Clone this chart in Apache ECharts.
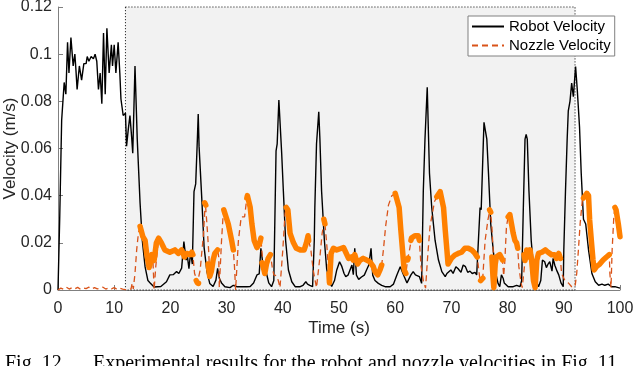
<!DOCTYPE html>
<html>
<head>
<meta charset="utf-8">
<title>Robot and nozzle velocity</title>
<script src="https://cdn.jsdelivr.net/npm/echarts@6/dist/echarts.min.js"></script>
<style>
  html, body { margin: 0; padding: 0; background: #fff; }
  #main { width: 640px; height: 366px; }
</style>
</head>
<body>
<div id="main"></div>
<script type="text/javascript">
// time (s), velocity (m/s)
var robotVel = [
  [0,0],[0.3,0.03],[0.65,0.072],[1.1,0.088],[1.4,0.083],[1.7,0.105],[1.95,0.092],[2.3,0.107],[2.7,0.095],[3.0,0.1],
  [3.2,0.093],[3.4,0.085],[3.8,0.095],[4.2,0.089],[4.6,0.096],[5.0,0.096],[5.2,0.099],[5.5,0.097],[5.9,0.099],[6.3,0.098],
  [6.6,0.1],[6.9,0.097],[7.2,0.085],[7.5,0.092],[7.8,0.079],[8.1,0.109],[8.4,0.083],[8.7,0.111],[9.1,0.092],[9.5,0.104],
  [9.7,0.095],[10.0,0.104],[10.3,0.092],[10.7,0.105],[11.0,0.092],[11.2,0.081],[11.6,0.074],[12.0,0.075],[12.2,0.061],[12.5,0.068],
  [12.8,0.074],[13.1,0.065],[13.3,0.058],[13.7,0.095],[14.1,0.064],[14.6,0.037],[15.0,0.021],[15.5,0.0098],[16.0,0.004],[16.4,0.003],
  [17.1,0.0013],[18.3,0.0015],[19.3,0.0035],[19.9,0.0064],[20.2,0.007],[20.5,0.0065],[21.1,0.0078],[21.5,0.007],[22.0,0.0093],[22.4,0.0205],
  [22.8,0.0127],[23.0,0.0148],[23.3,0.009],[23.6,0.016],[23.9,0.011],[24.2,0.0417],[24.5,0.045],[24.8,0.064],[24.95,0.0746],[25.1,0.061],
  [25.6,0.038],[26.0,0.018],[26.5,0.0078],[27.0,0.0028],[27.6,0.0015],[28.1,0.0042],[28.4,0.0092],[28.7,0.005],[29.1,0.003],[29.7,0.0014],
  [30.6,0.001],[31.2,0.002],[31.8,0.0014],[32.7,0.0014],[33.6,0.0014],[34.2,0.0015],[34.8,0.003],[35.4,0.0064],[35.8,0.0068],[36.1,0.0177],
  [36.4,0.012],[36.8,0.01],[37.1,0.007],[37.5,0.003],[38.0,0.0014],[38.4,0.004],[38.8,0.059],[39.0,0.062],[39.3,0.0806],[39.8,0.058],
  [40.1,0.042],[40.5,0.021],[41.0,0.0085],[41.6,0.0035],[42.2,0.0014],[43.1,0.0014],[43.6,0.002],[44.1,0.0035],[44.4,0.0025],[44.8,0.002],
  [45.3,0.0014],[45.6,0.021],[45.7,0.035],[46.0,0.062],[46.4,0.0756],[46.6,0.064],[46.9,0.042],[47.4,0.021],[47.8,0.009],[48.3,0.0035],
  [48.7,0.0015],[49.2,0.004],[49.6,0.0085],[50.1,0.012],[50.5,0.01],[50.9,0.007],[51.2,0.0057],[51.6,0.0063],[51.9,0.007],[52.3,0.0106],
  [52.55,0.0065],[52.8,0.0177],[53.1,0.0063],[53.5,0.0045],[54.0,0.0055],[54.5,0.0063],[54.9,0.0085],[55.3,0.0106],[55.7,0.0177],[56.0,0.0063],
  [56.4,0.004],[57.0,0.0028],[57.6,0.002],[58.2,0.0014],[59.1,0.0014],[59.7,0.0025],[60.3,0.0064],[60.9,0.0099],[61.2,0.0095],[61.6,0.0057],
  [62.1,0.003],[62.4,0.0035],[62.8,0.0064],[63.2,0.0078],[63.6,0.0064],[63.9,0.007],[64.3,0.0057],[64.7,0.0028],[65.0,0.042],[65.3,0.064],
  [65.7,0.086],[66.1,0.0495],[66.5,0.035],[67.1,0.021],[67.7,0.0127],[68.3,0.0078],[68.9,0.0057],[69.2,0.007],[69.5,0.0064],[69.9,0.0085],
  [70.3,0.007],[70.8,0.0099],[71.2,0.009],[71.7,0.0075],[72.1,0.0106],[72.5,0.0099],[72.9,0.0075],[73.3,0.008],[73.7,0.007],[74.2,0.0075],
  [74.5,0.0064],[74.8,0.0057],[75.1,0.035],[75.3,0.034],[75.7,0.064],[75.8,0.0711],[76.3,0.064],[76.6,0.0495],[77.0,0.028],[77.5,0.0155],
  [77.9,0.007],[78.3,0.0028],[78.6,0.0014],[78.9,0.0064],[79.2,0.005],[79.4,0.003],[80.1,0.0014],[81.0,0.0014],[81.6,0.002],[81.9,0.0018],
  [82.2,0.0014],[82.5,0.004],[82.8,0.035],[83.1,0.064],[83.3,0.066],[83.5,0.064],[83.8,0.042],[84.2,0.021],[84.6,0.0099],[85.0,0.0042],
  [85.5,0.0014],[85.9,0.004],[86.2,0.0127],[86.6,0.012],[86.9,0.0095],[87.2,0.011],[87.5,0.012],[87.9,0.008],[88.1,0.0134],[88.4,0.0105],
  [88.8,0.008],[89.1,0.0064],[89.5,0.003],[89.9,0.0014],[90.0,0.017],[90.3,0.042],[90.6,0.064],[90.8,0.076],[91.1,0.08],[91.4,0.0877],
  [91.7,0.082],[92.1,0.0947],[92.4,0.0848],[92.8,0.069],[93.1,0.0495],[93.5,0.03],[93.9,0.028],[94.4,0.017],[95.0,0.007],[95.6,0.0035],
  [96.2,0.002],[96.8,0.0025],[97.3,0.002],[97.9,0.0025],[98.5,0.0014],[99.1,0.0014],[100,0.0008]
];

var nozzleVel = [
  [0,0],[0.5,0.0008],[1,0.0003],[1.5,0.0012],[2,0.0004],[2.5,0.001],[3,0.0005],[3.5,0.0011],[4,0.0003],[4.5,0.0009],
  [5,0.0006],[5.5,0.0012],[6,0.0004],[6.5,0.001],[7,0.0005],[7.5,0.0008],[8,0.0012],[8.5,0.0004],[9,0.0009],[9.5,0.0005],
  [10,0.001],[10.5,0.0003],[11,0.0008],[11.5,0.0004],[12,0.0002],[12.5,0],[13.0,0.0005],[13.2,0.003],[13.4,0.0005],[13.7,0.007],
  [14.0,0.017],[14.3,0.024],[14.6,0.027],[15.1,0.0226],[15.5,0.021],[15.8,0.015],[16.2,0.0095],[16.4,0.011],[16.7,0.015],[16.9,0.012],
  [17.1,0],[17.4,0.01],[17.7,0.017],[17.9,0.022],[18.4,0.02],[19.0,0.017],[19.9,0.016],[20.8,0.017],[21.4,0.0155],[22.0,0.017],
  [22.5,0.014],[22.9,0.0155],[23.5,0.015],[23.8,0.016],[24.0,0.015],[24.3,0.007],[24.5,0.0057],[24.8,0.003],[25.0,0.003],[25.3,0.0085],
  [25.9,0.024],[26.2,0.0375],[26.5,0.028],[26.8,0.017],[27.0,0.0057],[27.3,0.008],[27.6,0.0127],[27.9,0.0155],[28.4,0.017],[28.6,0.014],
  [28.7,0.001],[29.1,0.021],[29.4,0.0325],[29.7,0.034],[30.3,0.028],[30.9,0.021],[31.2,0.017],[31.4,0.01],[31.6,0],[32.1,0.021],
  [32.6,0.031],[33.2,0.031],[33.6,0.039],[33.7,0.04],[34.2,0.035],[34.5,0.028],[34.9,0.021],[35.4,0.018],[35.9,0.02],[36.1,0.022],
  [36.5,0.0099],[36.8,0.007],[37.1,0.011],[37.4,0.0134],[37.8,0.015],[38.1,0.01],[38.4,0.0064],[38.9,0.006],[39.2,0.004],[39.5,0.001],
  [40.0,0.017],[40.4,0.0325],[40.6,0.035],[40.9,0.034],[41.3,0.024],[41.9,0.02],[42.4,0.0177],[43.1,0.017],[43.8,0.017],[44.2,0.02],
  [44.5,0.023],[44.6,0.021],[45.0,0.017],[45.4,0.0085],[46.0,0.001],[46.6,0.014],[47.0,0.024],[47.4,0.0297],[47.5,0.028],[47.8,0.02],
  [48.1,0.01],[48.3,0.003],[48.6,0.0155],[49.0,0.0177],[49.6,0.017],[50.2,0.0175],[50.8,0.018],[51.2,0.016],[51.7,0.0134],[52.2,0.014],
  [52.5,0.0127],[52.8,0.015],[53.3,0.011],[53.7,0.0125],[54.3,0.0134],[54.9,0.0127],[55.5,0.012],[56.1,0.0099],[56.4,0.0078],[56.9,0.0064],
  [57.3,0.0085],[57.6,0.0106],[57.9,0.017],[58.3,0.027],[58.8,0.036],[59.4,0.04],[60.0,0.041],[60.2,0.0415],[60.7,0.035],[61.0,0.0255],
  [61.3,0.017],[61.6,0.0085],[61.9,0.007],[62.2,0.0127],[62.6,0.0177],[62.9,0.022],[63.5,0.023],[64.1,0.023],[64.3,0.021],[64.6,0.0099],
  [65.0,0.004],[65.4,0.0008],[65.8,0.015],[66.2,0.027],[66.5,0.031],[67.0,0.0375],[67.4,0.0395],[68.0,0.0417],[68.3,0.041],[68.6,0.035],
  [68.9,0.0255],[69.2,0.017],[69.4,0.011],[69.7,0.0105],[70.0,0.0134],[70.6,0.0148],[71.2,0.0155],[71.8,0.016],[72.4,0.0177],[73.0,0.0177],
  [73.6,0.017],[74.2,0.0155],[74.6,0.014],[74.8,0.0099],[75.1,0.004],[75.4,0.0035],[75.6,0.006],[76.0,0.021],[76.5,0.0297],[76.9,0.0346],
  [77.2,0.027],[77.5,0.014],[77.6,0.001],[77.8,0.005],[78.0,0.014],[78.6,0.015],[79.1,0.0127],[79.3,0.006],[79.5,0.012],[79.8,0.027],
  [80.1,0.031],[80.4,0.032],[80.7,0.028],[81.0,0.024],[81.3,0.021],[81.6,0.02],[81.8,0.0177],[82.0,0.0099],[82.4,0.003],[82.6,0.001],
  [83.0,0.01],[83.4,0.017],[83.7,0.014],[84.0,0.017],[84.3,0.012],[84.6,0.004],[84.9,0.001],[85.2,0.0127],[85.5,0.0155],[86.1,0.016],
  [86.7,0.017],[87.2,0.016],[87.8,0.015],[88.4,0.015],[88.7,0.0134],[89.1,0.0155],[89.4,0.0134],[89.6,0.007],[90.2,0.004],[90.8,0.003],
  [91.4,0.0014],[91.7,0.0007],[92.0,0.0014],[92.3,0.007],[92.6,0.017],[92.9,0.028],[93.3,0.038],[93.5,0.039],[94.1,0.041],[94.4,0.04],
  [94.6,0.0297],[94.9,0.021],[95.2,0.0127],[95.4,0.0085],[95.8,0.0099],[96.4,0.011],[97.0,0.0127],[97.6,0.014],[98.1,0.015],[98.2,0.007],
  [98.4,0.001],[98.6,0.017],[98.9,0.031],[99.1,0.035],[99.3,0.034],[99.7,0.028],[100,0.0226]
];

// thick orange pieces (nozzle depositing), one small array per piece
var printSegments = [
  [[14.6,0.027],[15.1,0.0226],[15.5,0.021],[15.8,0.015],[16.2,0.0095],[16.4,0.011],[16.7,0.015],[17.1,0.0125],[17.5,0.02],[17.9,0.022],
   [18.4,0.02],[19.0,0.017],[19.9,0.016],[20.8,0.017],[21.4,0.0155],[22.0,0.017],[22.5,0.014],[22.9,0.0155],[23.5,0.015],[23.8,0.016],[24.0,0.015]],
  [[24.6,0.004],[24.8,0.003],[25.0,0.0028]],
  [[26.1,0.037],[26.3,0.036]],
  [[26.7,0.011],[27.0,0.0057],[27.3,0.008],[27.6,0.0127],[27.9,0.0155],[28.4,0.017]],
  [[29.5,0.034],[29.7,0.034],[30.3,0.028],[30.9,0.021],[31.2,0.017]],
  [[33.6,0.039],[33.7,0.04],[34.2,0.035],[34.5,0.028],[34.9,0.021],[35.4,0.018],[35.9,0.02],[36.1,0.022]],
  [[36.3,0.0115],[36.5,0.0099],[36.8,0.007],[37.1,0.011],[37.4,0.0134],[37.8,0.015]],
  [[40.6,0.035],[40.9,0.034],[41.3,0.024],[41.9,0.02],[42.4,0.0177],[43.1,0.017],[43.8,0.017],[44.2,0.02],[44.5,0.023],[44.6,0.021]],
  [[47.3,0.03],[47.5,0.028]],
  [[48.2,0.007],[48.3,0.003],[48.6,0.0155],[49.0,0.0177],[49.6,0.017],[50.2,0.0175],[50.8,0.018],[51.2,0.016],[51.7,0.0134],[52.2,0.014],
   [52.5,0.0127],[52.8,0.015],[53.3,0.011],[53.7,0.0125],[54.3,0.0134],[54.9,0.0127],[55.5,0.012],[56.1,0.0099],[56.4,0.0078],[56.9,0.0064],
   [57.3,0.0085],[57.6,0.0106]],
  [[60.0,0.041],[60.2,0.0415],[60.7,0.035],[61.0,0.0255],[61.3,0.017],[61.6,0.0085],[61.9,0.007]],
  [[62.2,0.0127],[62.3,0.0135]],
  [[62.8,0.021],[62.9,0.022],[63.5,0.023],[64.1,0.023],[64.3,0.021]],
  [[67.4,0.0395],[68.0,0.0417],[68.3,0.041],[68.6,0.035],[68.9,0.0255],[69.2,0.017],[69.4,0.011],[69.7,0.0105],[70.0,0.0134],[70.6,0.0148],
   [71.2,0.0155],[71.8,0.016],[72.4,0.0177],[73.0,0.0177],[73.6,0.017],[74.2,0.0155],[74.6,0.014]],
  [[75.2,0.004],[75.4,0.0035],[75.6,0.005]],
  [[76.8,0.034],[76.9,0.0346],[77.0,0.033]],
  [[77.2,0.014],[77.4,0.0055],[77.55,0.001],[77.8,0.011],[78.0,0.014],[78.6,0.015],[79.1,0.0127]],
  [[80.1,0.031],[80.4,0.032],[80.7,0.028],[81.0,0.024],[81.3,0.021],[81.6,0.02],[81.8,0.0177]],
  [[82.9,0.015],[83.1,0.0125],[83.4,0.017],[83.7,0.014],[84.0,0.017],[84.3,0.012],[84.6,0.004],[84.9,0.001],[85.2,0.0127],[85.5,0.0155],
   [86.1,0.016],[86.7,0.017],[87.2,0.016],[87.8,0.015],[88.4,0.015],[88.7,0.0134],[89.1,0.0155],[89.4,0.0134]],
  [[93.5,0.039],[94.1,0.041],[94.4,0.04],[94.6,0.0297],[94.9,0.021],[95.2,0.0127],[95.4,0.0085],[95.8,0.0099],[96.4,0.011],[97.0,0.0127],
   [97.6,0.014],[98.1,0.015]],
  [[99.1,0.035],[99.3,0.034],[99.7,0.028],[100,0.0226]]
];

var shadedRange = [12, 92];   // grey experiment window (s)
var xTicks = { min: 0, max: 100, step: 10 };
var yTicks = { min: 0, max: 0.12, step: 0.02 };
var captionNo = 'Fig. 12.';
var captionText = 'Experimental results for the robot and nozzle velocities in Fig. 11';

// join the thick pieces with gaps
var printData = [];
printSegments.forEach(function (seg, i) {
  if (i > 0) printData.push([seg[0][0], '-']);
  seg.forEach(function (p) { printData.push(p); });
});

var font = 'Liberation Sans, Arial, Helvetica, sans-serif';
var serif = 'Liberation Serif, Times New Roman, serif';
var axisGrey = '#808080';
var textCol = '#262626';

var option = {
  animation: false,
  backgroundColor: '#fff',
  grid: { left: 58, right: 20, top: 7, bottom: 76, outerBoundsMode: 'none', containLabel: false },
  legend: {
    data: ['Robot Velocity', 'Nozzle Velocity'],
    orient: 'vertical',
    left: 468, top: 16,
    backgroundColor: '#fff',
    borderColor: '#808080', borderWidth: 1, borderRadius: 0,
    padding: [3, 4, 3, 3],
    itemWidth: 32, itemHeight: 14, itemGap: 4,
    itemStyle: { opacity: 0 },
    textStyle: { fontFamily: font, fontSize: 15, color: '#000' }
  },
  xAxis: {
    type: 'value', min: xTicks.min, max: xTicks.max, interval: xTicks.step,
    name: 'Time (s)', nameLocation: 'middle', nameGap: 30, nameMoveOverlap: false,
    nameTextStyle: { fontFamily: font, fontSize: 17, color: textCol },
    axisLine: { lineStyle: { color: axisGrey, width: 1 } },
    axisTick: { inside: true, length: 5, lineStyle: { color: axisGrey } },
    axisLabel: { margin: 11, fontFamily: font, fontSize: 16, color: textCol },
    splitLine: { show: false }
  },
  yAxis: {
    type: 'value', min: yTicks.min, max: yTicks.max, interval: yTicks.step,
    name: 'Velocity (m/s)', nameLocation: 'middle', nameGap: 39, nameMoveOverlap: false,
    nameTextStyle: { fontFamily: font, fontSize: 17, color: textCol },
    axisLine: { show: true, lineStyle: { color: axisGrey, width: 1 } },
    axisTick: { show: true, inside: true, length: 5, lineStyle: { color: axisGrey } },
    axisLabel: { margin: 6, fontFamily: font, fontSize: 16, color: textCol },
    splitLine: { show: false }
  },
  series: [
    {
      name: 'Robot Velocity', type: 'line', data: robotVel,
      symbol: 'none', z: 3,
      lineStyle: { color: '#000', width: 1.4 },
      itemStyle: { color: '#000' },
      markArea: {
        silent: true,
        itemStyle: { color: '#f2f2f2', borderColor: '#000', borderWidth: 1, borderType: [1, 2] },
        data: [[{ xAxis: shadedRange[0], yAxis: yTicks.max }, { xAxis: shadedRange[1], yAxis: yTicks.min }]]
      }
    },
    {
      name: 'Nozzle Velocity', type: 'line', data: nozzleVel,
      symbol: 'none', z: 4,
      lineStyle: { color: '#d95319', width: 1.3, type: [6, 4] },
      itemStyle: { color: '#d95319' }
    },
    {
      name: 'printing', type: 'line', data: printData,
      symbol: 'none', z: 5, connectNulls: false,
      lineStyle: { color: '#ff8000', width: 5.5, cap: 'round', join: 'round' },
      itemStyle: { color: '#ff8000' }
    }
  ],
  graphic: [
    { type: 'text', left: 5, top: 354, silent: true,
      style: { text: captionNo, fontFamily: serif, fontSize: 20, fill: '#000' } },
    { type: 'text', left: 93, top: 354, silent: true,
      style: { text: captionText, fontFamily: serif, fontSize: 20, fill: '#000' } }
  ]
};

echarts.init(document.getElementById('main')).setOption(option);
</script>
</body>
</html>
